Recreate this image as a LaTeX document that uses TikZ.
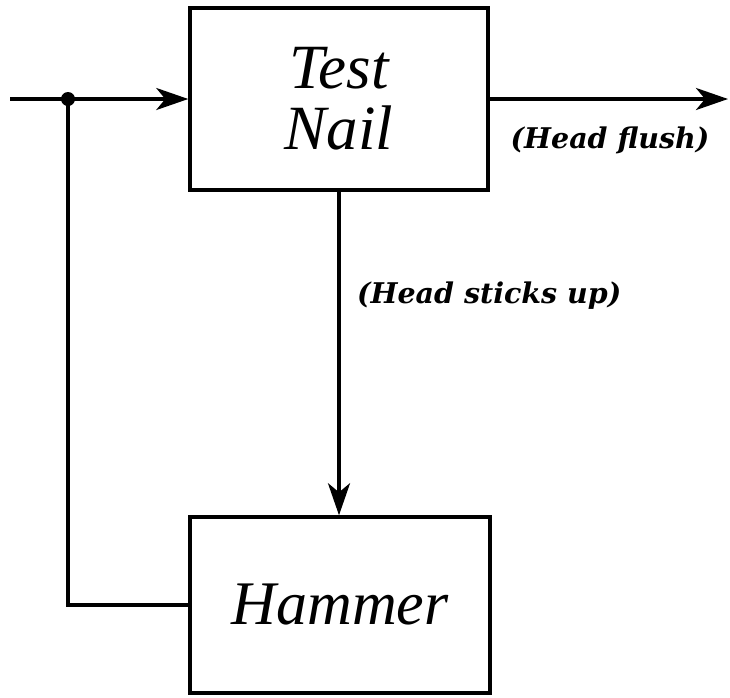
\documentclass[tikz,border=0pt]{standalone}
\usepackage{fontspec}
\setmainfont{Liberation Serif}
\newfontfamily\lblfont{DejaVu Serif}
\usetikzlibrary{arrows.meta}
\begin{document}
\begin{tikzpicture}[x=1pt,y=-1pt,
  boxnode/.style={draw,line width=3.5pt,minimum width=#1,inner sep=0pt,align=center},
  arr/.style={-{Stealth[length=32pt,width=22pt,inset=9pt]}},
  conn/.style={line width=3.5pt},
  lbl/.style={font=\lblfont\bfseries\itshape\fontsize{28.5}{31}\selectfont,inner sep=0pt}]
\useasboundingbox (0,0) rectangle (730,697);
\node[boxnode=298pt,minimum height=182pt,font=\itshape\fontsize{63}{61}\selectfont] (tn) at (339,99) {Test\\Nail};
\node[boxnode=300pt,minimum height=176pt,font=\itshape\fontsize{62}{64}\selectfont] (hm) at (340,605) {Hammer};
\coordinate (in) at (10,99);
\coordinate (j) at (68,99);
\coordinate (out) at (728,99);
\draw[conn,arr] (in) -- (tn.west);
\fill (j) circle (7pt);
\draw[conn] (j) |- (hm.west);
\draw[conn,arr] (tn.east) -- (out);
\draw[conn,arr] (tn.south) -- (tn.south |- hm.north);
\node[lbl] (l1) at (610,140) {(Head flush)};
\node[lbl,anchor=west] (l2) at (357,296) {(Head sticks up)};
\end{tikzpicture}
\end{document}
